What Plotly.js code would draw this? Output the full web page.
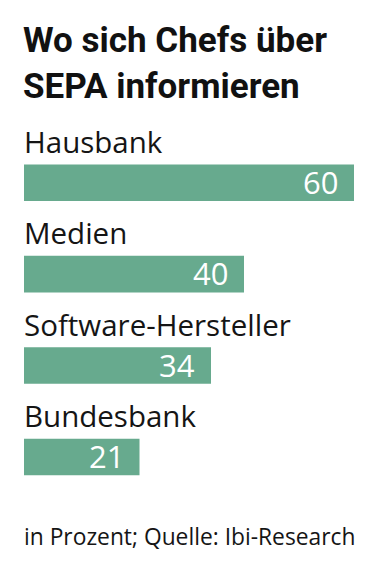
<!DOCTYPE html>
<html>
<head>
<meta charset="utf-8">
<script src="https://cdn.plot.ly/plotly-3.0.1.min.js"></script>
<style>html,body{margin:0;padding:0;background:#fff;}#chart{width:378px;height:573px;}</style>
</head>
<body>
<div id="chart"></div>
<script>
var categories = ["Hausbank", "Medien", "Software-Hersteller", "Bundesbank"];
var values = [60, 40, 34, 21];
var titleText = "Wo sich Chefs über<br>SEPA informieren";
var footnote = "in Prozent; Quelle: Ibi-Research";

var TFONT = "Roboto, 'Noto Sans', sans-serif";
var FONT = "'Open Sans', 'Noto Sans', sans-serif";
var GREEN = "#67aa8e";

var annotations = [];
categories.forEach(function (c, i) {
  annotations.push({
    x: 0, y: c, xref: "x", yref: "y",
    text: c, showarrow: false,
    xanchor: "left", yanchor: "bottom",
    xshift: -2, yshift: 19,
    font: {family: FONT, size: 29.5, color: "#151515"}
  });
  annotations.push({
    x: values[i], y: c, xref: "x", yref: "y",
    text: String(values[i]), showarrow: false,
    xanchor: "right", yanchor: "middle",
    xshift: -14, yshift: 1,
    font: {family: FONT, size: 31, color: "#ffffff"}
  });
});
annotations.push({
  x: 0, y: -0.087, xref: "paper", yref: "paper",
  text: footnote, showarrow: false, xanchor: "left", yanchor: "bottom",
  xshift: -2,
  font: {family: FONT, size: 22.8, color: "#151515"}
});

Plotly.newPlot("chart", [{
  type: "bar",
  orientation: "h",
  x: values,
  y: categories,
  marker: {color: GREEN},
  hoverinfo: "skip"
}], {
  width: 378, height: 573,
  margin: {l: 24, r: 24, t: 137, b: 52, pad: 0},
  paper_bgcolor: "#fff", plot_bgcolor: "#fff",
  bargap: 0.6,
  showlegend: false,
  title: {
    text: titleText,
    x: 23 / 378, xref: "container", xanchor: "left",
    y: 1 - 52 / 573, yref: "container", yanchor: "top",
    font: {family: TFONT, size: 35, color: "#111111", weight: "bold"}
  },
  xaxis: {range: [0, 60], visible: false, fixedrange: true},
  yaxis: {autorange: "reversed", visible: false, fixedrange: true},
  annotations: annotations
}, {displayModeBar: false, staticPlot: true});
</script>
</body>
</html>
